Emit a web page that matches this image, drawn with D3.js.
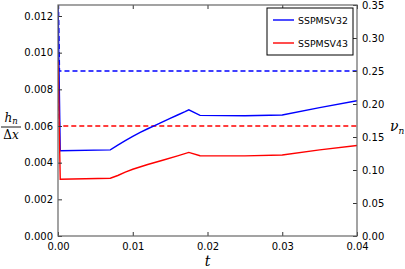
<!DOCTYPE html>
<html>
<head>
<meta charset="utf-8">
<script src="https://cdn.jsdelivr.net/npm/d3@7"></script>
<style>
  body { margin: 0; background: #fff; }
  svg text { font-family: "DejaVu Sans", sans-serif; }
  .math { font-family: "DejaVu Serif", serif; font-style: italic; }
</style>
</head>
<body>
<div id="chart"></div>
<script>
// time (s) and values
const tBlue = [0, 0.0003, 0.007, 0.008, 0.009, 0.010, 0.011, 0.012, 0.013, 0.014, 0.015, 0.016, 0.017, 0.0175, 0.019, 0.025, 0.030, 0.035, 0.040];
const hBlue = [0.0130, 0.00465, 0.0047, 0.00496, 0.0052, 0.00543, 0.00565, 0.00585, 0.00604, 0.00623, 0.00641, 0.0066, 0.00678, 0.00688, 0.00658, 0.00656, 0.00660, 0.0070, 0.00738];
const tRed = [0, 0.0003, 0.007, 0.008, 0.009, 0.010, 0.012, 0.014, 0.016, 0.0175, 0.019, 0.025, 0.030, 0.035, 0.040];
const hRed = [0.0095, 0.0031, 0.00315, 0.0033, 0.00348, 0.00364, 0.0039, 0.00413, 0.00437, 0.00456, 0.00438, 0.00437, 0.00442, 0.0047, 0.00494];
// nu_n (right axis), dashed
const tNu = [0, 0.0002, 0.040];
const nuBlue = [0.40, 0.25, 0.25];
const nuRed = [0.27, 0.1667, 0.1667];

const series = ["SSPMSV32", "SSPMSV43"];
const colors = ["#0000ff", "#ff0000"];
const xTicks = [0, 0.01, 0.02, 0.03, 0.04];
const yLeftTicks = [0, 0.002, 0.004, 0.006, 0.008, 0.010, 0.012];
const yRightTicks = [0, 0.05, 0.10, 0.15, 0.20, 0.25, 0.30, 0.35];

const W = 405, H = 269;
const margin = { top: 5, right: 48, bottom: 33, left: 58 };
const w = W - margin.left - margin.right, h = H - margin.top - margin.bottom;

const svg = d3.select("#chart").append("svg").attr("width", W).attr("height", H);
const g = svg.append("g").attr("transform", `translate(${margin.left},${margin.top})`);

const x = d3.scaleLinear().domain([0, 0.04]).range([0, w]);
const yL = d3.scaleLinear().domain([0, 0.0126]).range([h, 0]);
const yR = d3.scaleLinear().domain([0, 0.35]).range([h, 0]);

svg.append("defs").append("clipPath").attr("id", "clip")
  .append("rect").attr("width", w).attr("height", h);
const plot = g.append("g").attr("clip-path", "url(#clip)");

const lineL = d3.line().x(d => x(d[0])).y(d => yL(d[1]));
const lineR = d3.line().x(d => x(d[0])).y(d => yR(d[1]));

[[tNu, nuBlue, 0], [tNu, nuRed, 1]].forEach(([t, v, i]) => {
  plot.append("path").datum(d3.zip(t, v)).attr("d", lineR)
    .attr("fill", "none").attr("stroke", colors[i]).attr("stroke-width", 1.4)
    .attr("stroke-dasharray", "5,3");
});
[[tBlue, hBlue, 0], [tRed, hRed, 1]].forEach(([t, v, i]) => {
  plot.append("path").datum(d3.zip(t, v)).attr("d", lineL)
    .attr("fill", "none").attr("stroke", colors[i]).attr("stroke-width", 1.4);
});

// axes, ticks pointing inward
const ax = (sel) => sel.call(s => s.select(".domain").remove())
  .call(s => s.selectAll("line").attr("stroke", "#333"));
g.append("g").attr("transform", `translate(0,${h})`)
  .call(d3.axisBottom(x).tickValues(xTicks).tickFormat(d3.format(".2f")).tickSizeInner(-4).tickPadding(7))
  .call(ax);
g.append("g")
  .call(d3.axisTop(x).tickValues(xTicks).tickFormat("").tickSizeInner(-4))
  .call(ax);
g.append("g")
  .call(d3.axisLeft(yL).tickValues(yLeftTicks).tickFormat(d3.format(".3f")).tickSizeInner(-4).tickPadding(5))
  .call(ax);
g.append("g").attr("transform", `translate(${w},0)`)
  .call(d3.axisRight(yR).tickValues(yRightTicks).tickFormat(d3.format(".2f")).tickSizeInner(-4).tickPadding(5))
  .call(ax);
g.selectAll(".tick text").attr("font-size", 10).attr("fill", "#000")
  .attr("font-family", "DejaVu Sans, sans-serif");

g.append("rect").attr("width", w).attr("height", h)
  .attr("fill", "none").attr("stroke", "#666").attr("stroke-width", 1.2);

// axis labels
svg.append("text").attr("class", "math").attr("x", margin.left + w / 2).attr("y", 266)
  .attr("text-anchor", "middle").attr("font-size", 14).text("t");

const lab = svg.append("g").attr("transform", "translate(11,127)");
const num = lab.append("text").attr("class", "math").attr("text-anchor", "middle").attr("y", -5).attr("font-size", 12);
num.append("tspan").text("h");
num.append("tspan").attr("font-size", 8.5).attr("dy", 2).text("n");
lab.append("line").attr("x1", -10).attr("x2", 10).attr("y1", 0).attr("y2", 0)
  .attr("stroke", "#000").attr("stroke-width", 0.9);
const den = lab.append("text").attr("class", "math").attr("text-anchor", "middle").attr("y", 12).attr("font-size", 12);
den.append("tspan").attr("font-style", "normal").text("Δ");
den.append("tspan").text("x");

const nu = svg.append("text").attr("class", "math").attr("x", 390).attr("y", 131).attr("font-size", 14);
nu.append("tspan").text("ν");
nu.append("tspan").attr("font-size", 9).attr("dy", 3).text("n");

// legend
const lg = svg.append("g").attr("transform", "translate(267,8)");
lg.append("rect").attr("width", 86).attr("height", 47).attr("fill", "#fff")
  .attr("stroke", "#000").attr("stroke-width", 1);
series.forEach((s, i) => {
  const yy = 12 + i * 23;
  lg.append("line").attr("x1", 6).attr("x2", 27).attr("y1", yy).attr("y2", yy)
    .attr("stroke", colors[i]).attr("stroke-width", 1.4);
  lg.append("text").attr("x", 31).attr("y", yy + 3.5).attr("font-size", 9.4).text(s);
});
</script>
</body>
</html>
